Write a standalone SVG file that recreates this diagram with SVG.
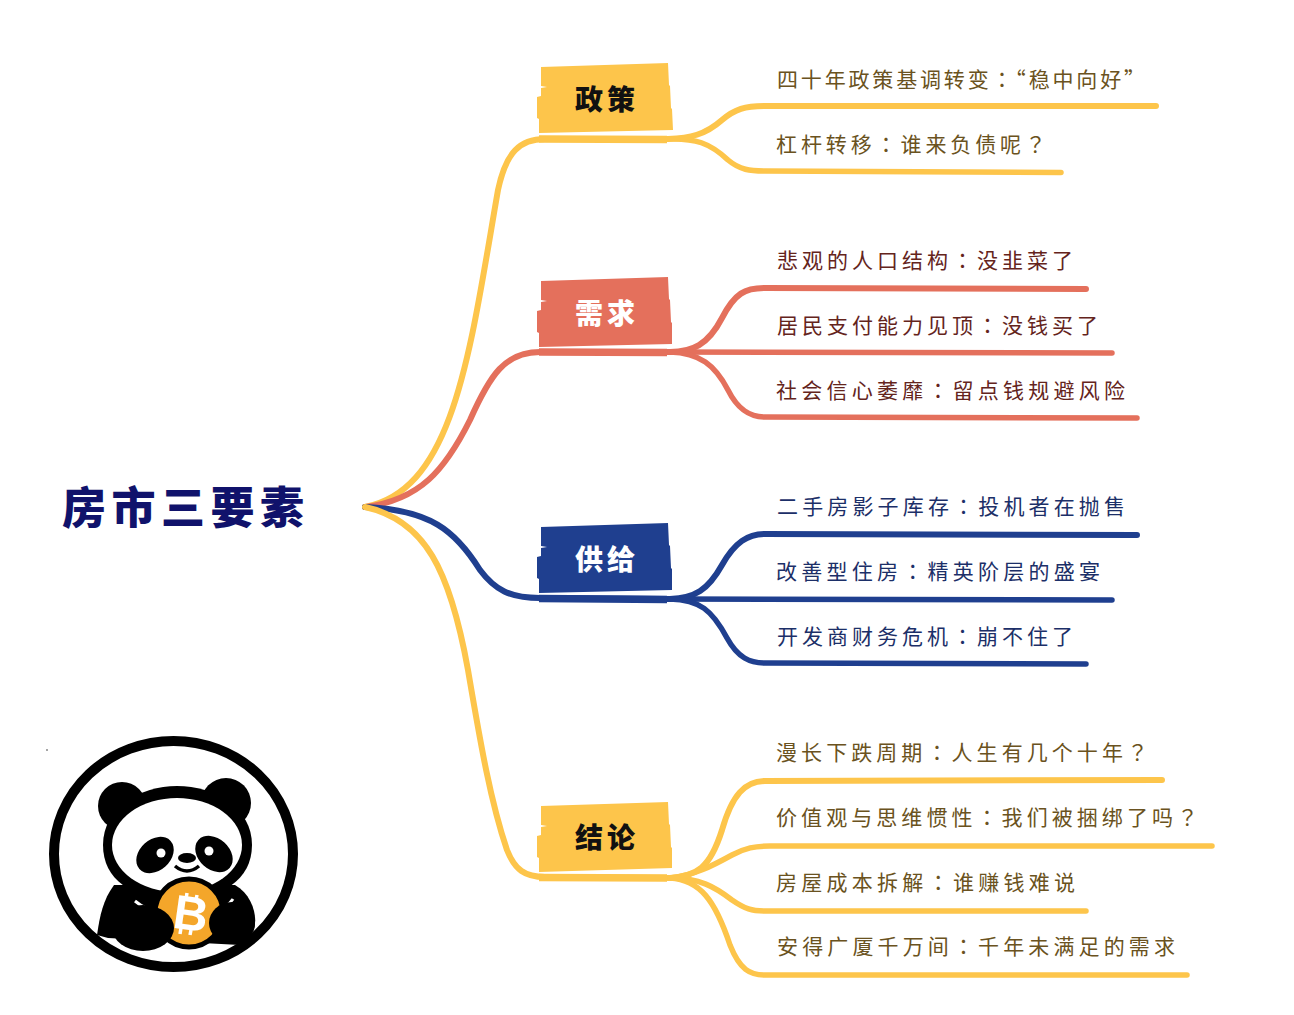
<svg xmlns="http://www.w3.org/2000/svg" width="1294" height="1015" viewBox="0 0 1294 1015">
<style>
.c{fill:none;stroke-linecap:round;stroke-linejoin:round}
.b{stroke-width:6}
.l{stroke-width:5.5}
.f{stroke-width:7.5;stroke-linecap:butt}
.y{stroke:#FDC54B}.r{stroke:#E4705C}.n{stroke:#1F3F8F}
.t{font-family:"Noto Sans CJK SC","Noto Sans CJK JP",sans-serif;font-size:21px;font-weight:400}
.p{font-family:"Noto Sans CJK TC",sans-serif}
.h{font-family:"Noto Sans CJK SC","Noto Sans CJK JP",sans-serif;font-size:28px;font-weight:900;text-anchor:middle;letter-spacing:4px}
.ty{fill:#6A5220}.tr{fill:#64241C}.tn{fill:#1C2F68}
</style>
<rect width="1294" height="1015" fill="#fff"/>
<g id="connectors">
<path class="c b y" d="M365 507C455 490 470 350 498 190C506 152 520 139 545 139L668 139C690 138 705 135 722 120C735 109 745 106 765 106L1156 106"/>
<path class="c l y" d="M668 139C695 138 710 143 728 160C740 170 750 171 765 171L1061 172.500"/>
<path class="c f y" d="M539 139L667 139.500"/>
<path class="c b r" d="M365 507C420 500 445 470 470 420C490 375 505 352 540 352L670 352C692 352 708 345 722 318C735 293 745 288 765 288L1086 289"/>
<path class="c l r" d="M670 352L1112 353"/>
<path class="c l r" d="M670 352C700 353 715 365 728 390C738 410 750 417 765 417L1137 418"/>
<path class="c f r" d="M539 352L667 352.500"/>
<path class="c b n" d="M365 507C430 510 455 530 480 570C495 590 510 598 540 598L670 599C695 598 708 590 722 565C735 542 748 534 765 534L1137 535"/>
<path class="c l n" d="M670 599L1112 600"/>
<path class="c l n" d="M670 599C700 600 712 610 727 638C738 658 750 663 765 663L1086 664"/>
<path class="c f n" d="M539 598.500L667 599.500"/>
<path class="c b y" d="M365 507C425 520 450 570 468 670C480 740 490 800 507 850C515 870 525 877 545 877L670 878C697 876 710 868 722 830C732 795 745 781 765 781L1162 780"/>
<path class="c l y" d="M670 878C695 875 712 866 732 855C745 848 755 846 770 846L1212 846"/>
<path class="c l y" d="M670 878C700 878 715 887 732 900C745 909 752 911 765 911L1086 911"/>
<path class="c l y" d="M670 878C700 880 715 900 730 945C740 970 750 975 765 975L1187 975"/>
<path class="c f y" d="M539 877.500L667 878"/>
</g>
<g id="root"><text x="62" y="524" style="font-family:'Noto Sans CJK SC',sans-serif;font-size:44px;font-weight:900;fill:#10126B" textLength="242" lengthAdjust="spacing">房市三要素</text></g>
<g id="node-policy"><path d="M541 67L668 63L669 85L670 86L671 108L672 109L673 130L539 133L539 119L537 118L537 97L541 96L541 88L547 87L541 86Z" fill="#FDC54B"/><text class="h" x="607" y="110" fill="#111">政策</text></g>
<g id="node-demand"><path d="M541 281L668 277L669 299L670 300L671 322L672 323L672 344L539 347L539 333L537 332L537 311L541 310L541 302L547 301L541 300Z" fill="#E4705C"/><text class="h" x="607" y="324" fill="#fff">需求</text></g>
<g id="node-supply"><path d="M541 527L668 523L669 545L670 546L671 568L672 569L672 590L539 593L539 579L537 578L537 557L541 556L541 548L547 547L541 546Z" fill="#1F3F8F"/><text class="h" x="607" y="570" fill="#fff">供给</text></g>
<g id="node-conclusion"><path d="M541 806L668 802L669 824L670 825L671 847L672 848L672 868L539 872L539 858L537 857L537 836L541 835L541 827L547 826L541 825Z" fill="#FDC54B"/><text class="h" x="607" y="848" fill="#111">结论</text></g>
<g id="leaves">
<text class="t ty" x="777" y="87" textLength="368" lengthAdjust="spacing">四十年政策基调转变<tspan class="p">：</tspan>“稳中向好”</text>
<text class="t ty" x="776" y="152" textLength="270" lengthAdjust="spacing">杠杆转移<tspan class="p">：</tspan>谁来负债呢<tspan class="p">？</tspan></text>
<text class="t tr" x="777" y="268" textLength="296" lengthAdjust="spacing">悲观的人口结构<tspan class="p">：</tspan>没韭菜了</text>
<text class="t tr" x="777" y="333" textLength="321" lengthAdjust="spacing">居民支付能力见顶<tspan class="p">：</tspan>没钱买了</text>
<text class="t tr" x="776" y="398" textLength="349" lengthAdjust="spacing">社会信心萎靡<tspan class="p">：</tspan>留点钱规避风险</text>
<text class="t tn" x="777" y="514" textLength="348" lengthAdjust="spacing">二手房影子库存<tspan class="p">：</tspan>投机者在抛售</text>
<text class="t tn" x="776" y="579" textLength="324" lengthAdjust="spacing">改善型住房<tspan class="p">：</tspan>精英阶层的盛宴</text>
<text class="t tn" x="777" y="644" textLength="296" lengthAdjust="spacing">开发商财务危机<tspan class="p">：</tspan>崩不住了</text>
<text class="t ty" x="776" y="760" textLength="372" lengthAdjust="spacing">漫长下跌周期<tspan class="p">：</tspan>人生有几个十年<tspan class="p">？</tspan></text>
<text class="t ty" x="776" y="825" textLength="422" lengthAdjust="spacing">价值观与思维惯性<tspan class="p">：</tspan>我们被捆绑了吗<tspan class="p">？</tspan></text>
<text class="t ty" x="776" y="890" textLength="299" lengthAdjust="spacing">房屋成本拆解<tspan class="p">：</tspan>谁赚钱难说</text>
<text class="t ty" x="777" y="954" textLength="398" lengthAdjust="spacing">安得广厦千万间<tspan class="p">：</tspan>千年未满足的需求</text>
</g>
<g id="panda">
<ellipse cx="173.500" cy="854" rx="119.500" ry="113" fill="#fff" stroke="#000" stroke-width="10"/>
<circle cx="122" cy="806" r="24" fill="#000"/>
<circle cx="226" cy="803" r="25" fill="#000"/>
<path d="M97 935C100 915 103 900 114 885L235 885C252 895 258 915 254 930L240 945L108 938Z" fill="#000"/>
<path d="M103 845C103 808 140 786 177 786C215 786 252 808 252 845C252 880 222 899 177 899C132 899 103 880 103 845Z" fill="#000"/>
<ellipse cx="177" cy="845" rx="65" ry="47" fill="#fff"/>
<ellipse cx="155" cy="855" rx="21" ry="15.500" transform="rotate(-42 155 855)" fill="#000"/>
<ellipse cx="214" cy="854" rx="21" ry="15.500" transform="rotate(42 214 854)" fill="#000"/>
<circle cx="161" cy="853" r="4.500" fill="#fff"/><circle cx="209" cy="851" r="4.500" fill="#fff"/>
<ellipse cx="187" cy="858" rx="9" ry="5" fill="#000"/>
<path d="M175 866Q187 876 199 866" fill="none" stroke="#000" stroke-width="3.500"/>
<circle cx="189" cy="913" r="34" fill="#F4A62A" stroke="#000" stroke-width="5"/>
<path d="M135 901Q148 912 160 910M233 899Q226 909 217 909" fill="none" stroke="#fff" stroke-width="3"/>
<text x="191" y="930" text-anchor="middle" transform="rotate(8 191 913)" style="font-family:'Liberation Sans',sans-serif;font-size:48px;font-weight:700;fill:#fff">B</text>
<path d="M187 893L186 899M197 895L196 900M181 928L180 934M191 930L190 935" stroke="#fff" stroke-width="3.500"/>
<ellipse cx="143" cy="928" rx="31" ry="23" fill="#000"/>
<ellipse cx="232" cy="923" rx="23" ry="21" fill="#000"/>
<circle cx="47" cy="750" r=".8" fill="#333"/>
</g>
</svg>
